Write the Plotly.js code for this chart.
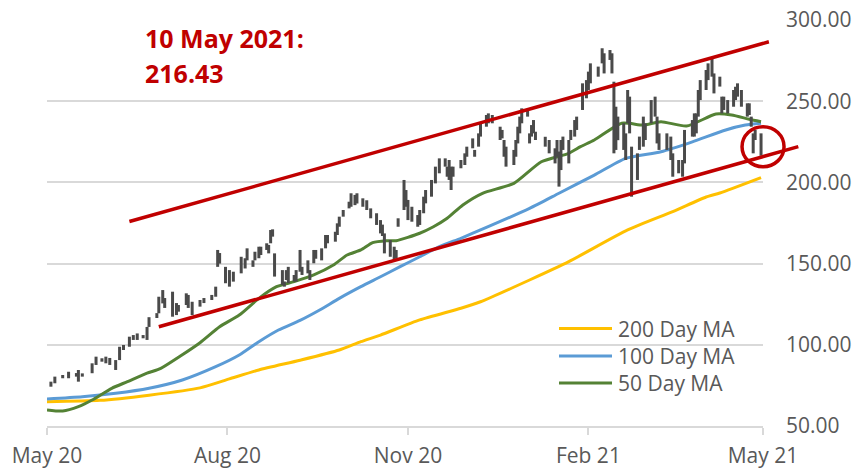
<!DOCTYPE html>
<html>
<head>
<meta charset="utf-8">
<script src="https://cdn.plot.ly/plotly-3.0.1.min.js"></script>
<style>html,body{margin:0;padding:0;background:#fff;}#chart{width:868px;height:471px;}</style>
</head>
<body>
<div id="chart"></div>
<script>
// ---- Price (daily high/low) ----
const dates = ['2020-05-13','2020-05-15','2020-05-19','2020-05-22','2020-05-26','2020-05-27','2020-05-29','2020-06-03','2020-06-05','2020-06-08','2020-06-10','2020-06-12','2020-06-15','2020-06-17','2020-06-19','2020-06-22','2020-06-24','2020-06-26','2020-06-29','2020-07-01','2020-07-02','2020-07-06','2020-07-07','2020-07-09','2020-07-10','2020-07-14','2020-07-16','2020-07-17','2020-07-21','2020-07-22','2020-07-24','2020-07-28','2020-07-30','2020-08-03','2020-08-05','2020-08-06','2020-08-07','2020-08-10','2020-08-12','2020-08-14','2020-08-18','2020-08-20','2020-08-21','2020-08-24','2020-08-25','2020-08-27','2020-08-28','2020-08-31','2020-09-01','2020-09-02','2020-09-03','2020-09-04','2020-09-08','2020-09-09','2020-09-10','2020-09-11','2020-09-14','2020-09-15','2020-09-17','2020-09-18','2020-09-21','2020-09-22','2020-09-24','2020-09-25','2020-09-28','2020-09-30','2020-10-01','2020-10-05','2020-10-06','2020-10-07','2020-10-09','2020-10-12','2020-10-13','2020-10-15','2020-10-16','2020-10-19','2020-10-21','2020-10-23','2020-10-26','2020-10-28','2020-10-29','2020-10-30','2020-11-02','2020-11-04','2020-11-05','2020-11-06','2020-11-09','2020-11-10','2020-11-11','2020-11-13','2020-11-16','2020-11-17','2020-11-19','2020-11-20','2020-11-23','2020-11-25','2020-11-27','2020-11-30','2020-12-01','2020-12-02','2020-12-03','2020-12-04','2020-12-08','2020-12-10','2020-12-11','2020-12-14','2020-12-15','2020-12-17','2020-12-18','2020-12-21','2020-12-22','2020-12-24','2020-12-28','2020-12-29','2020-12-30','2020-12-31','2021-01-04','2021-01-05','2021-01-06','2021-01-07','2021-01-08','2021-01-11','2021-01-12','2021-01-13','2021-01-14','2021-01-15','2021-01-20','2021-01-22','2021-01-25','2021-01-26','2021-01-27','2021-01-28','2021-01-29','2021-02-01','2021-02-02','2021-02-04','2021-02-05','2021-02-08','2021-02-10','2021-02-11','2021-02-12','2021-02-16','2021-02-18','2021-02-19','2021-02-22','2021-02-23','2021-02-24','2021-02-25','2021-02-26','2021-03-01','2021-03-02','2021-03-03','2021-03-04','2021-03-05','2021-03-08','2021-03-09','2021-03-11','2021-03-12','2021-03-15','2021-03-17','2021-03-18','2021-03-19','2021-03-23','2021-03-25','2021-03-26','2021-03-29','2021-03-31','2021-04-01','2021-04-05','2021-04-06','2021-04-07','2021-04-08','2021-04-09','2021-04-12','2021-04-13','2021-04-15','2021-04-16','2021-04-19','2021-04-20','2021-04-21','2021-04-23','2021-04-26','2021-04-27','2021-04-28','2021-04-30','2021-05-03','2021-05-04','2021-05-05','2021-05-06','2021-05-07','2021-05-10'];
const lows = [74.2,76.3,79.4,79.4,80.4,77.3,80.4,82.5,87.6,89.6,88.6,87.6,84.5,90.6,96.8,98.8,103,103,104,103,111,116.5,119.4,125.5,122.7,117.3,118.3,120.4,124.5,122.7,118.3,123.5,125.7,127.6,129.6,148,150,137.9,135.8,138.9,144,147,152,148,152,153.3,155.3,158.4,156.3,162.5,166.6,142,136.8,135.8,139.9,137.9,138.9,138.9,145,143,144,139.9,150.2,153,152,159.4,162.5,163.5,167.6,172.7,178.9,184,185,186,187,185,183,177.9,173.8,168.6,167,156.3,154.2,152.2,153.3,172.7,183,185,176.8,175.8,172.7,173.8,181,187.1,191.2,199.4,205.6,209.7,203.5,201.5,195.3,203.5,208.7,210.7,215.8,221,215.8,222,228.2,234.3,236.4,236.4,226.1,227.1,215.8,209.7,210.7,215.8,224,230.2,236.4,240.5,224,228.2,230.2,226.1,222,217.9,211.7,215.8,197.4,207.6,220,211.7,226.1,228.2,232.3,244.6,251.8,256.9,261,265.1,273.3,267.1,275.4,267.1,217.9,220,226,220,213.8,236.4,230.2,191.2,201.5,220,222,226.1,236.4,240.5,224,220,220,213.8,203.5,205.6,203.5,211.7,228.2,228.2,230.2,240.5,250.7,256.9,263,265.1,254.8,259,242.5,244.6,242.5,246.6,250.7,252.8,246.6,240.5,241.5,234.3,217.9,226.1,216.4];
const highs = [77.3,80.4,81.4,83.4,82.6,84.5,82.4,88.6,92.7,91.7,92.7,91.9,90.6,98.8,99.9,105,106,107,106,111,117,119.5,129.6,133.7,128.8,132.7,125.7,124.5,131.7,130.7,126.5,127.6,128.8,130.7,135.8,158.4,156.5,148,146,145,154.2,153.3,159.4,152,157.3,160.4,160.4,162.5,161.5,170.7,171.1,156.3,146,139,146,148,143,146,158.4,148,152,146,158.4,158.4,159.4,167.6,167.6,169.6,174.8,178.9,183,188.1,193.3,192.3,193.3,190.2,189,184,181,176.8,174,168.6,164.5,160.4,158.4,177.9,201.5,195.3,189.2,185,179.9,183,191.2,195.3,201.5,209.7,214.8,214.8,209.7,213.8,209.7,209.7,213.8,217.9,222,227.1,220,230.2,236.4,241.5,242.5,241.5,234.3,232.3,226.1,222,220,226.1,234.3,240.5,245.6,244.6,230.2,235.3,238.4,231.2,228.1,226.1,221,226.1,219,226.1,228.2,226.1,232.3,238.4,240.5,261,263,268.2,273.3,271.3,282.6,279.5,281.5,279.5,262,246.6,240.5,236.4,230.2,256.9,252.8,222,217.9,228.2,240.5,236.4,250.7,252.8,240.5,230.2,230.2,228.2,217.9,213.8,213.8,232.3,238.4,242.5,242.5,256.9,263,269.2,273.3,276,267.1,265.1,252.8,252.8,250.7,256.9,258.9,261,256.9,248.7,248.7,240.5,230.2,232.3,230.2];
const lastClose = 216.43;

// ---- Moving averages ----
const ma200Dates = ['2020-05-11','2020-06-07','2020-07-02','2020-07-28','2020-08-12','2020-08-27','2020-09-17','2020-10-07','2020-10-18','2020-10-28','2020-11-17','2020-12-08','2020-12-18','2021-01-12','2021-02-01','2021-03-03','2021-03-26','2021-04-12','2021-04-19','2021-05-10'];
const ma200 = [65.0,65.8,69.0,73.5,79.0,84.5,90.5,96.8,101.9,106.0,115.3,122.5,126.5,139.9,151.2,170.7,182.0,191.0,193.5,203.0];
const ma100Dates = ['2020-05-11','2020-05-29','2020-06-15','2020-07-02','2020-07-19','2020-08-05','2020-08-17','2020-08-27','2020-09-06','2020-09-17','2020-09-27','2020-10-07','2020-10-18','2020-10-28','2020-11-07','2020-11-17','2020-11-27','2020-12-08','2020-12-18','2021-01-12','2021-01-27','2021-02-14','2021-03-02','2021-03-20','2021-04-05','2021-04-22','2021-05-02','2021-05-10'];
const ma100 = [66.6,68.0,70.1,73.2,78.3,86.5,93.7,101.9,109.1,115.0,121.4,128.6,135.8,141.9,148.1,154.2,160.4,165.6,170.7,184.0,193.3,204.5,214.8,218.9,225.0,232.3,235.3,236.4];
const ma50Dates = ['2020-05-11','2020-05-19','2020-05-27','2020-06-03','2020-06-13','2020-06-21','2020-07-01','2020-07-08','2020-07-18','2020-07-28','2020-08-07','2020-08-17','2020-08-27','2020-09-05','2020-09-14','2020-09-24','2020-10-04','2020-10-11','2020-10-18','2020-10-24','2020-10-31','2020-11-05','2020-11-17','2020-11-24','2020-12-01','2020-12-09','2020-12-19','2021-01-04','2021-01-18','2021-02-01','2021-02-07','2021-02-14','2021-02-28','2021-03-11','2021-03-20','2021-04-02','2021-04-17','2021-04-25','2021-05-04','2021-05-10'];
const ma50 = [59.9,59.2,61.9,66.0,73.2,77.3,82.5,85.5,93.1,101.3,111.1,118.3,128.6,135.8,138.9,143.0,149.1,155.3,158.4,162.9,164.1,164.1,168.7,172.7,177.9,186.1,193.3,199.4,212.7,217.9,222.0,226.1,236.4,235.3,237.4,234.7,242.1,241.5,238.9,237.4];

// ---- Trend channel (hand-drawn lines) ----
const upperDates = ['2020-06-22','2021-05-14'];
const upperVals = [175.9,286.6];
const lowerDates = ['2020-07-07','2021-05-29'];
const lowerVals = [111.1,222.0];

// ---- Labels ----
const xTickVals = ['2020-05-11','2020-08-11','2020-11-11','2021-02-11','2021-05-11'];
const xTickText = ['May 20','Aug 20','Nov 20','Feb 21','May 21'];
const yTickVals = [50,100,150,200,250,300];
const legendNames = ['200 Day MA','100 Day MA','50 Day MA'];
const noteLines = ['10 May 2021:', '216.43'];

const C200 = '#FFC000', C100 = '#5B9BD5', C50 = '#548235', RED = '#C00000', GREY = '#595959';
const FONT = 'Open Sans, Liberation Sans, sans-serif';

// segments for high-low bars
const segX = [], segY = [];
dates.forEach((d, i) => { segX.push(d, d, null); segY.push(lows[i], highs[i], null); });

const W = 868, H = 471, mL = 47, mR = 60, mT = 20, mB = 45;
const plotW = W - mL - mR;
const mainW = 716;
const dom = mainW / plotW;
const xStart = '2020-05-11', xEnd = '2021-05-11';
const t0 = Date.parse(xStart), t1 = Date.parse(xEnd);
const x2End = new Date(t0 + (t1 - t0) / dom).toISOString();

const maLine = (x, y, c) => ({type:'scatter', mode:'lines', x, y, line:{color:c, width:3, shape:'spline', smoothing:0.6}, hoverinfo:'skip', showlegend:false});

const traces = [
  maLine(ma200Dates, ma200, C200),
  maLine(ma100Dates, ma100, C100),
  maLine(ma50Dates, ma50, C50),
  {type:'scatter', mode:'lines', x:segX, y:segY, connectgaps:false, line:{color:'#4a4a4a', width:3}, hoverinfo:'skip', showlegend:false},
  {type:'scatter', mode:'lines', x:upperDates, y:upperVals, xaxis:'x2', yaxis:'y2', line:{color:RED, width:3.5}, hoverinfo:'skip', showlegend:false},
  {type:'scatter', mode:'lines', x:lowerDates, y:lowerVals, xaxis:'x2', yaxis:'y2', line:{color:RED, width:3.5}, hoverinfo:'skip', showlegend:false}
];

const px = v => (v - mL) / plotW;
const py = v => (H - mB - v) / (H - mT - mB);

const legendY = [py(328.5), py(356), py(383)];
const legendCols = [C200, C100, C50];
const shapes = legendCols.map((c, i) => ({type:'line', xref:'paper', yref:'paper', x0:px(559), x1:px(612), y0:legendY[i], y1:legendY[i], line:{color:c, width:3}}));
shapes.push({type:'circle', xref:'x2', yref:'y2', xsizemode:'pixel', ysizemode:'pixel',
  xanchor: dates[dates.length-1], yanchor: lastClose, x0:-19, x1:23, y0:-11, y1:29,
  line:{color:RED, width:3.5}, fillcolor:'rgba(0,0,0,0)'});

const annotations = legendNames.map((t, i) => ({xref:'paper', yref:'paper', x:px(616), y:legendY[i], xanchor:'left', yanchor:'middle', text:t, showarrow:false, font:{family:FONT, size:21, color:GREY}}));
annotations.push({xref:'paper', yref:'paper', x:px(143), y:py(38.3), xanchor:'left', yanchor:'middle', text:'<b>'+noteLines[0]+'</b>', showarrow:false, font:{family:FONT, size:25, color:RED}});
annotations.push({xref:'paper', yref:'paper', x:px(143), y:py(73), xanchor:'left', yanchor:'middle', text:'<b>'+noteLines[1]+'</b>', showarrow:false, font:{family:FONT, size:25, color:RED}});

const layout = {
  width: W, height: H,
  margin: {l:mL, r:mR, t:mT, b:mB, pad:0},
  paper_bgcolor:'#ffffff', plot_bgcolor:'rgba(0,0,0,0)',
  showlegend:false,
  font:{family:FONT, color:GREY, size:21},
  xaxis:{type:'date', domain:[0, dom], range:[xStart, xEnd], anchor:'y',
    tickvals:xTickVals, ticktext:xTickText, showgrid:false, zeroline:false,
    showline:true, linecolor:'#d9d9d9', linewidth:2,
    ticks:'outside', ticklen:7, tickwidth:2, tickcolor:'#d9d9d9', ticklabelstandoff:3,
    tickfont:{family:FONT, size:21, color:GREY}, fixedrange:true},
  yaxis:{range:[50,300], side:'right', anchor:'x', tickvals:yTickVals, tickformat:'.2f',
    showgrid:true, gridcolor:'#d9d9d9', gridwidth:2, zeroline:false, showline:false,
    ticks:'', ticklabelstandoff:22, tickfont:{family:FONT, size:21, color:GREY}, fixedrange:true},
  xaxis2:{type:'date', domain:[0,1], range:[xStart, x2End], anchor:'y2', visible:false, fixedrange:true},
  yaxis2:{range:[50,300], domain:[0,1], anchor:'x2', visible:false, fixedrange:true},
  shapes, annotations
};

Plotly.newPlot('chart', traces, layout, {displayModeBar:false, staticPlot:true});
</script>
</body>
</html>
